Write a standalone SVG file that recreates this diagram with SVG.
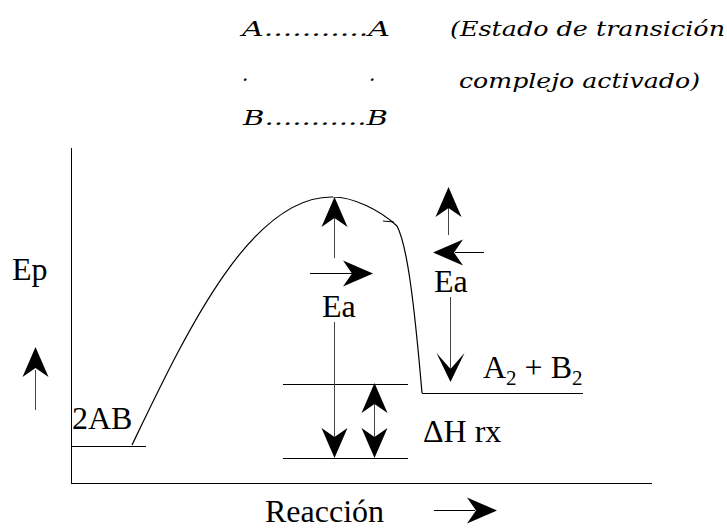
<svg xmlns="http://www.w3.org/2000/svg" width="727" height="529" viewBox="0 0 727 529">
<style>
  .ln { stroke:#000; stroke-width:1; fill:none; }
  .thin { stroke:#444; stroke-width:1; fill:none; }
  .crv { stroke:#000; stroke-width:1.2; fill:none; }
  .hd { fill:#000; stroke:none; }
  .sub { font-size:21px; }
  .ser { font-family:"Liberation Serif","Times New Roman",serif; font-size:32px; fill:#000; }
  .it { font-family:"DejaVu Serif","Liberation Serif",serif; font-style:italic; font-size:20px; fill:#000; }
</style>
<defs>
  <path id="ah" d="M0,0 L13,30 L0,21 L-13,30 Z"/>
  <path id="vh" d="M0,0 L14,29 L0,13 L-14,29 Z"/>
</defs>
<rect width="727" height="529" fill="#fff"/>

<g id="transition-state">
  <text class="it" x="242" y="36" textLength="148" lengthAdjust="spacingAndGlyphs">A...........A</text>
  <text class="it" x="450" y="36" textLength="275" lengthAdjust="spacingAndGlyphs">(Estado de transición</text>
  <text class="it" x="242" y="81">.</text>
  <text class="it" x="369" y="81">.</text>
  <text class="it" x="459" y="88" textLength="241" lengthAdjust="spacingAndGlyphs">complejo activado)</text>
  <text class="it" x="243" y="125" textLength="145" lengthAdjust="spacingAndGlyphs">B...........B</text>
</g>

<g id="axes">
  <line class="ln" x1="71.5" y1="148" x2="71.5" y2="483.5"/>
  <line class="ln" x1="71" y1="483.5" x2="652" y2="483.5"/>
  <text class="ser" x="12" y="280">Ep</text>
  <text class="ser" x="265" y="522">Reacción</text>
</g>

<g id="curve">
  <path class="crv" d="M132,445 C185,335 250,195 333,197 C353,197 380,210 397,226 C407,245 414,300 422,393"/>
  <line class="ln" x1="383" y1="221" x2="394" y2="222"/>
</g>

<g id="levels">
  <line class="ln" x1="71" y1="446.5" x2="146" y2="446.5"/>
  <line class="ln" x1="422" y1="393.5" x2="583" y2="393.5"/>
  <line class="ln" x1="283" y1="384.5" x2="408" y2="384.5"/>
  <line class="ln" x1="283" y1="458.5" x2="408" y2="458.5"/>
</g>

<g id="labels">
  <text class="ser" x="72" y="429">2AB</text>
  <text class="ser" x="322" y="317">Ea</text>
  <text class="ser" x="434" y="292">Ea</text>
  <text class="ser" x="423" y="442">ΔH rx</text>
  <text class="ser" x="483" y="378">A<tspan class="sub" dy="7">2</tspan><tspan dy="-7"> + B</tspan><tspan class="sub" dy="7">2</tspan></text>
</g>

<g id="connectors">
  <line class="thin" x1="35.5" y1="370" x2="35.5" y2="410"/>
  <use href="#ah" class="hd" transform="translate(35.5,347)"/>
  <line class="ln" x1="434" y1="510.5" x2="475" y2="510.5"/>
  <use href="#ah" class="hd" transform="translate(497,510.5) rotate(90)"/>
  <line class="thin" x1="334.5" y1="215" x2="334.5" y2="258"/>
  <use href="#ah" class="hd" transform="translate(334.5,197)"/>
  <line class="ln" x1="310" y1="273.5" x2="352" y2="273.5"/>
  <use href="#ah" class="hd" transform="translate(373,273.5) rotate(90)"/>
  <line class="thin" x1="334.5" y1="322" x2="334.5" y2="440"/>
  <use href="#ah" class="hd" transform="translate(334.5,458) rotate(180)"/>
  <line class="thin" x1="448.5" y1="205" x2="448.5" y2="235"/>
  <use href="#ah" class="hd" transform="translate(448.5,187)"/>
  <line class="ln" x1="455" y1="252.5" x2="484" y2="252.5"/>
  <use href="#ah" class="hd" transform="translate(433,252.5) rotate(-90)"/>
  <line class="thin" x1="450.5" y1="297" x2="450.5" y2="370"/>
  <use href="#vh" class="hd" transform="translate(450.5,382) rotate(180)"/>
  <line class="thin" x1="374.5" y1="400" x2="374.5" y2="442"/>
  <use href="#ah" class="hd" transform="translate(374.5,383)"/>
  <use href="#ah" class="hd" transform="translate(374.5,458) rotate(180)"/>
</g>
</svg>
